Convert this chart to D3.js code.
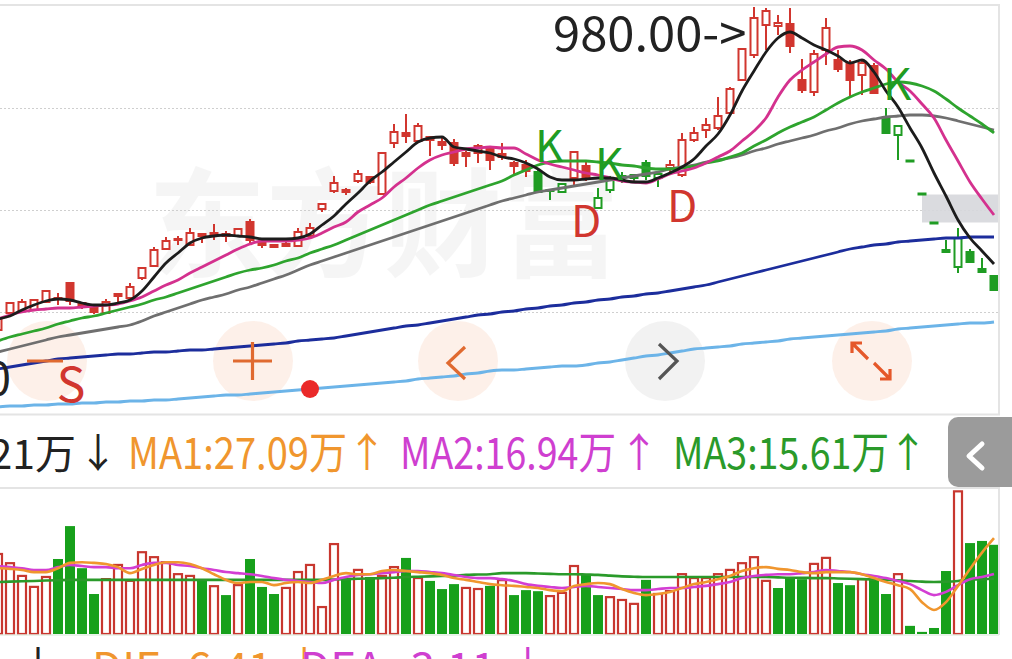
<!DOCTYPE html>
<html>
<head>
<meta charset="utf-8">
<script src="https://cdn.jsdelivr.net/npm/d3@7"></script>
<style>
html, body { margin: 0; padding: 0; background: #fff; overflow: hidden; }
svg { display: block; }
text { font-family: "Noto Sans CJK SC", "Noto Sans", sans-serif; }
</style>
</head>
<body>
<svg id="chart" width="1012" height="659"></svg>
<script>
// daily candles (price)
var open = [657,674,676,677,685,689,704,684,680,674,
  691,689,709,721,738,748,742,753,752,753,
  751,765,744,742,741,741,751,778,796,797,
  806,810,793,844,854,846,850,845,844,834,
  834,838,833,824,822,815,797,795,809,821,
  779,797,809,809,824,809,819,812,847,857,
  859,874,907,932,962,961,963,907,895,937,
  927,924,912,921,869,852,826.5,793.5,764.5,737,
  720,735,718,711];
var close = [669,684,685,687,696,688,686,680,675,685,
  693,700,719,737,746,747,754,751,754,751,
  758,747,742,740,743,755,759,783,804,795,
  813,805,834,855,851,861,847,842,824,831,
  841,827,830,821,816,795,796,803,835,810,
  789,807,811,812,811,813,822,847,854,862,
  871,898,938,969,976,964,941,897,933,959,
  918,907,924,894,854,861,825.5,792.5,763.5,735,
  749,725,715,697];
var high = [671,685,688,688,697,694,705,685,681,688,
  694,704,720,740,750,751,759,754,763,756,
  759,768,747,743,746,759,764,784,811,799,
  817,811,834,863,873,864,851,849,848,836,
  843,841,844,826,827,817,798,804,836,827,
  799,811,815,812,827,815,827,854,860,869,
  890,900,938,980,979,972,979,928,937,969,
  937,927,927,924,879,861,826.5,793.5,764.5,747,
  759,738,729,712];
var low = [654,673,675,676,684,682,682,678,673,673,
  684,688,707,720,737,742,741,744,747,745,
  750,742,739,739,740,740,749,775,794,792,
  804,803,792,839,844,845,831,837,821,820,
  824,817,827,812,810,794,787,794,800,806,
  778,794,804,806,807,800,815,810,845,849,
  857,873,907,929,937,952,934,894,891,922,
  915,891,892,893,853,827,825.5,792.5,763.5,735,
  714,724,714,696];

// moving averages
var ma5 = [668,671,677,682,686,688,687,684,682,682,
  684,687,696,710,724,734,744,749,751,752,
  751,750,748,748,748,749,753,762,771,783,
  794,806,815,825,835,845,849,850,840,838,
  836,834,830,828,824,818,810,807,807,808,
  809,809,807,805,805,809,814,820,828,841,
  853,872,896,916,935,949,955,949,942,937,
  931,924,927,915,896,880,859,839,814,791,
  767,749,736,723];
var ma10 = [668,672,675,677,678,679,679,680,681,682,
  683,686,690,696,702,707,714,720,726,732,
  738,743,746,746,746,747,749,754,760,765,
  775,782,789,800,809,819,827,832,835,838,
  839,840,839,839,833,827,823,820,817,814,
  812,809,806,805,804,808,813,816,819,824,
  830,836,846,856,869,890,907,917,925,933,
  940,941,937,927,918,905,896,883,869,847,
  826,805,788,772];
var ma20 = [646,650,653,656,659,663,666,669,671,674,
  677,680,683,687,690,694,698,702,706,710,
  714,717,719,722,726,729,734,738,742,747,
  752,757,762,767,772,777,782,786,790,794,
  798,802,806,812,817,822,825,826,826,826,
  825,824,822,821,819,818,818,819,821,824,
  826,830,834,841,847,854,860,865,870,877,
  884,890,895,899,903,905,904,901,896,888,
  879,871,863,854];
var ma30 = [635,638,641,644,647,650,652,654,656,658,
  660,662,666,671,675,679,683,687,690,693,
  697,700,704,708,712,717,722,726,730,734,
  738,742,746,750,754,758,762,766,770,774,
  778,782,786,789,792,795,797,799,801,803,
  805,807,809,811,813,815,818,820,822,825,
  827,829,832,836,839,843,846,849,852,856,
  859,863,866,868,870,871,872,872,871,869,
  866,863,860,857];
var ma60 = [618,620,622,624,626,628,629,630,631,632,
  633,633,634,635,635,636,637,637,638,639,
  640,641,642,643,644,646,647,648,649,651,
  653,655,657,659,661,662,664,666,668,670,
  672,673,675,676,678,679,681,682,684,685,
  687,688,690,691,693,694,696,698,700,702,
  705,708,711,714,717,720,723,726,729,732,
  735,738,740,742,743,745,746,747,748,749,
  749,750,750,750];
var ma120 = [580,581,581,582,582,583,583,584,584,585,
  585,586,586,587,587,588,589,590,591,592,
  592,593,594,595,596,597,598,599,600,601,
  602,603,604,605,606,608,609,610,611,613,
  614,616,617,617,618,619,620,621,621,622,
  624,625,627,629,631,632,634,636,638,639,
  640,641,643,644,645,646,648,649,650,651,
  652,653,654,655,656,658,659,660,661,662,
  663,664,664,665];

// 空/多 signals (K = 空, D = 多)
var signalIdx = [45, 48, 50, 56, 74];
var signalType = ["K", "D", "K", "D", "K"];
var gapIdx = 77;      // price gap after this day
var markIdx = 26;     // red dot on the long average

// volume, 万 shares
var vol = [22.9,20.3,16.7,13.6,16.4,21.2,30.5,18.6,11.3,15.8,
  19.8,15.3,23.4,22.0,20.6,17.2,16.7,15.5,13.8,11.0,
  14.1,21.2,13.3,11.3,13.3,17.8,19.8,7.9,25.7,15.5,
  18.4,16.1,16.7,19.2,21.5,16.1,15.0,12.7,14.1,13.3,
  13.0,13.6,15.5,11.0,12.4,12.1,11.0,11.9,19.5,16.7,
  11.0,10.7,9.9,8.8,15.3,11.6,12.4,17.2,16.1,16.1,
  17.2,18.4,20.3,22.0,15.3,13.0,16.1,15.5,20.1,21.8,
  14.4,13.8,15.8,15.5,11.3,17.2,2.3,0.6,1.7,17.8,
  40.6,25.7,26.3,25.21];
var volMa1 = [18.6,18.4,18.1,17.5,17.5,18.6,20.1,20.3,20.1,19.8,
  18.9,17.2,18.4,19.5,20.3,20.3,19.8,18.6,16.9,15.3,
  14.4,14.7,14.7,13.8,14.4,14.7,14.4,15.3,16.4,17.2,
  16.9,16.9,17.8,18.1,17.8,17.5,17.2,16.7,15.8,15.3,
  14.7,14.1,13.8,13.6,13.3,13.0,12.4,12.1,13.6,14.1,
  14.4,14.1,12.7,11.6,11.0,11.3,11.9,13.0,14.1,14.7,
  15.5,16.4,17.8,18.6,18.9,18.4,18.1,17.5,17.2,17.5,
  17.5,17.5,16.9,15.8,14.7,13.8,12.7,9.0,6.8,9.0,
  13.6,18.4,23.0,27.09];
var volMa2 = [19.2,18.9,18.6,18.1,18.1,18.9,19.5,19.2,18.9,18.9,
  18.6,18.6,19.5,20.1,20.1,19.5,19.2,18.6,18.1,17.5,
  17.2,16.9,16.4,15.8,15.3,15.0,14.7,14.4,15.3,16.1,
  16.7,16.9,17.2,17.5,17.8,17.8,17.5,17.2,16.7,16.1,
  15.8,15.8,15.5,15.0,14.1,13.6,13.3,13.0,13.3,13.6,
  13.3,13.0,12.7,12.4,12.4,12.7,13.0,13.0,13.3,13.6,
  14.1,14.7,15.8,16.4,16.7,16.9,16.9,17.2,17.5,18.1,
  17.8,17.5,16.9,16.4,15.8,15.0,14.1,12.4,11.0,11.9,
  13.8,15.5,16.1,16.94];
var volMa3 = [14.7,14.8,14.9,15.0,15.1,15.2,15.3,15.3,15.3,15.3,
  15.3,15.3,15.3,15.3,15.3,15.3,15.3,15.3,15.3,15.3,
  15.3,15.3,15.3,15.3,15.3,15.3,15.3,15.3,15.4,15.5,
  15.6,15.7,15.8,15.9,16.1,16.2,16.3,16.4,16.5,16.7,
  16.8,16.9,17.2,17.2,17.2,17.1,17.0,16.9,16.9,16.8,
  16.7,16.5,16.3,16.2,16.1,16.1,16.1,16.1,16.1,16.1,
  16.1,16.1,16.1,16.1,16.1,16.0,15.9,15.9,15.8,15.8,
  15.7,15.6,15.5,15.4,15.3,15.2,15.0,14.8,14.7,14.8,
  15.0,15.3,15.5,15.61];

var RED = "#d1362f", GREEN = "#1f9c23";
var N = open.length, idx = d3.range(N);

var svg = d3.select("#chart");
svg.append("rect").attr("width", 1012).attr("height", 659).attr("fill", "#fff");

// scales
var x = d3.scaleBand().domain(idx).range([-8, 1000]).paddingInner(0.25).paddingOuter(0.125);
var xc = function(i) { return x(i) + x.bandwidth() / 2; };
var y = d3.scaleLinear().domain([573, 981]).range([414, 6]);
var yv = d3.scaleLinear().domain([0, 40.7]).range([634, 490]);

var defs = svg.append("defs");
defs.append("clipPath").attr("id", "clipMain")
  .append("rect").attr("x", 0).attr("y", 6).attr("width", 998).attr("height", 408);
defs.append("clipPath").attr("id", "clipVol")
  .append("rect").attr("x", 0).attr("y", 488).attr("width", 998).attr("height", 147);

// watermark
svg.append("text").attr("x", 148).attr("y", 268)
  .attr("font-size", 118).attr("font-weight", "bold").attr("fill", "#000").attr("opacity", 0.035)
  .text("东方财富");

// grid and frame
var dom = y.domain();
svg.append("g").selectAll("line")
  .data(d3.range(1, 4).map(function(k) { return dom[0] + (dom[1] - dom[0]) * k / 4; }))
  .enter().append("line")
    .attr("x1", 0).attr("x2", 998)
    .attr("y1", function(d) { return Math.round(y(d)) + 0.5; })
    .attr("y2", function(d) { return Math.round(y(d)) + 0.5; })
    .attr("stroke", "#cfcfcf").attr("stroke-dasharray", "2,2");

var frame = svg.append("g").attr("stroke", "#e4e4e4").attr("stroke-width", 2);
frame.append("line").attr("x1", 0).attr("x2", 1000).attr("y1", 5).attr("y2", 5);
frame.append("line").attr("x1", 999).attr("x2", 999).attr("y1", 5).attr("y2", 415);
frame.append("line").attr("x1", 0).attr("x2", 1000).attr("y1", 414.5).attr("y2", 414.5);
frame.append("line").attr("x1", 0).attr("x2", 1000).attr("y1", 488).attr("y2", 488);
frame.append("line").attr("x1", 999).attr("x2", 999).attr("y1", 488).attr("y2", 635);

// toolbar buttons (under the lines)
var btnX = [47, 253, 458, 665, 872];
svg.append("g").selectAll("circle").data(btnX).enter().append("circle")
  .attr("cx", function(d) { return d; }).attr("cy", 361).attr("r", 40)
  .attr("fill", function(d, i) { return i === 3 ? "#efefef" : "#fdece4"; })
  .attr("opacity", 0.8);

var main = svg.append("g").attr("clip-path", "url(#clipMain)");

// gap box
main.append("rect")
  .attr("x", xc(gapIdx)).attr("width", 1000 - xc(gapIdx))
  .attr("y", y(low[gapIdx])).attr("height", y(high[gapIdx + 1]) - y(low[gapIdx]))
  .attr("fill", "#d6d7db").attr("opacity", 0.9);

function trend(i) {
  var t = "D";
  signalIdx.forEach(function(s, k) { if (s <= i) t = signalType[k]; });
  return t;
}
var cColor = function(i) { return trend(i) === "K" ? GREEN : RED; };

// candles
var candle = main.append("g").selectAll("g").data(idx).enter().append("g");
candle.append("line")
  .attr("x1", xc).attr("x2", xc)
  .attr("y1", function(i) { return y(high[i]); })
  .attr("y2", function(i) { return y(low[i]); })
  .attr("stroke", cColor).attr("stroke-width", 2);
candle.append("rect")
  .attr("x", function(i) { return x(i) + 1; })
  .attr("width", x.bandwidth() - 2)
  .attr("y", function(i) { return y(Math.max(open[i], close[i])); })
  .attr("height", function(i) { return Math.max(1, Math.abs(y(open[i]) - y(close[i]))); })
  .attr("fill", function(i) { return close[i] > open[i] ? "#fff" : cColor(i); })
  .attr("stroke", cColor).attr("stroke-width", 2);

// moving averages
var line = function(arr) {
  return d3.line().x(xc).y(function(i) { return y(arr[i]); }).curve(d3.curveMonotoneX)(idx);
};
[[ma120, "#6cb4e8"], [ma60, "#1c2d9c"], [ma30, "#6f6f6f"], [ma20, "#2ea42e"], [ma10, "#d4318e"], [ma5, "#1c1c1c"]]
  .forEach(function(s) {
    main.append("path").attr("d", line(s[0])).attr("fill", "none")
      .attr("stroke", s[1]).attr("stroke-width", 2.8).attr("stroke-linejoin", "round");
  });

// K / D marks
signalIdx.forEach(function(s, k) {
  var isK = signalType[k] === "K";
  svg.append("text")
    .attr("x", xc(s) - 3)
    .attr("y", isK ? y(high[s]) - 8 : y(low[s]) + 50)
    .attr("font-family", "Noto Sans").attr("font-size", 44)
    .attr("fill", isK ? GREEN : RED)
    .text(signalType[k]);
});

// highest price marker
var hi = d3.maxIndex(high);
svg.append("text").attr("x", 553).attr("y", y(high[hi]) + 44)
  .attr("textLength", x(hi) - 3 - 553).attr("lengthAdjust", "spacingAndGlyphs")
  .attr("font-family", "Noto Sans").attr("font-size", 48)
  .attr("fill", "#222").text(high[hi].toFixed(2) + "->");

// toolbar icons
var ic = svg.append("g").attr("fill", "none").attr("stroke-width", 3.2).attr("stroke-linecap", "butt");
ic.append("line").attr("x1", 27).attr("x2", 63).attr("y1", 361).attr("y2", 361).attr("stroke", "#e06a30");
ic.append("path").attr("d", "M233,361H272M252.5,342V380").attr("stroke", "#e06a30");
ic.append("path").attr("d", "M465,347L448,363L465,379").attr("stroke", "#e06a30");
ic.append("path").attr("d", "M659,344L677,361L659,379").attr("stroke", "#555");
ic.append("path").attr("d", "M852,353V343H862M852,343L868,359M890,369V379H880M890,379L874,363").attr("stroke", "#e5582a");

svg.append("text").attr("x", 71).attr("y", 402).attr("text-anchor", "middle")
  .attr("font-family", "Noto Sans").attr("font-size", 48).attr("fill", RED).text("S");
svg.append("text").attr("x", 11).attr("y", 395).attr("text-anchor", "end")
  .attr("font-family", "Noto Sans").attr("font-size", 46).attr("fill", "#222").text("600.00");
svg.append("circle").attr("cx", xc(markIdx)).attr("cy", y(ma120[markIdx])).attr("r", 9).attr("fill", "#ea2a2a");

// legend row
var last = N - 1;
var arrow = function(a) { return a[last] >= a[last - 1] ? "↑" : "↓"; };
var leg = [
  {t: "VOL:" + vol[last].toFixed(2) + "万", a: arrow(vol), c: "#222", x0: null, x1: 76, ax: 98},
  {t: "MA1:" + volMa1[last].toFixed(2) + "万", a: arrow(volMa1), c: "#f0962e", x0: 128, x1: 347, ax: 367},
  {t: "MA2:" + volMa2[last].toFixed(2) + "万", a: arrow(volMa2), c: "#cf3fd0", x0: 400, x1: 616, ax: 639},
  {t: "MA3:" + volMa3[last].toFixed(2) + "万", a: arrow(volMa3), c: "#2a9a2a", x0: 673, x1: 889, ax: 908}
];
leg.forEach(function(l) {
  var t = svg.append("text").attr("y", 469).attr("font-size", 44).attr("fill", l.c).text(l.t);
  if (l.x0 === null) t.attr("x", l.x1).attr("text-anchor", "end").attr("font-size", 41);
  else t.attr("x", l.x0).attr("textLength", l.x1 - l.x0).attr("lengthAdjust", "spacingAndGlyphs");
  svg.append("text").attr("x", l.ax).attr("y", 467).attr("text-anchor", "middle")
    .attr("font-size", 40).attr("fill", l.c).text(l.a);
});

// side tab
svg.append("path").attr("d", "M958,417H1012V487H958A10,10 0 0 1 948,477V427A10,10 0 0 1 958,417Z").attr("fill", "#9b9b9b");
svg.append("path").attr("d", "M982,444L969,456L982,468").attr("fill", "none")
  .attr("stroke", "#fff").attr("stroke-width", 5).attr("stroke-linecap", "round").attr("stroke-linejoin", "round");

// volume panel
var vg = svg.append("g").attr("clip-path", "url(#clipVol)");
var vUp = function(i) { return i === 0 || close[i] >= close[i - 1]; };
vg.selectAll("rect").data(idx).enter().append("rect")
  .attr("x", function(i) { return xc(i) - 5 + (vUp(i) ? 1 : 0); })
  .attr("width", function(i) { return vUp(i) ? 8 : 10; })
  .attr("y", function(i) { return yv(vol[i]) + (vUp(i) ? 1 : 0); })
  .attr("height", function(i) { return yv(0) - yv(vol[i]) - (vUp(i) ? 1 : 0); })
  .attr("fill", function(i) { return vUp(i) ? "#fff" : "#17a01b"; })
  .attr("stroke", function(i) { return vUp(i) ? "#c8372f" : "none"; })
  .attr("stroke-width", 2.2);
var vline = function(arr) {
  return d3.line().x(xc).y(function(i) { return yv(arr[i]); }).curve(d3.curveMonotoneX)(idx);
};
[[volMa3, "#2a9a2a"], [volMa2, "#d33ed3"], [volMa1, "#f0962e"]].forEach(function(s) {
  vg.append("path").attr("d", vline(s[0])).attr("fill", "none")
    .attr("stroke", s[1]).attr("stroke-width", 2.6).attr("stroke-linejoin", "round");
});
svg.append("line").attr("x1", 0).attr("x2", 999).attr("y1", 635).attr("y2", 635)
  .attr("stroke", "#e3efe3").attr("stroke-width", 1.5);

// next indicator row (cut off by the frame)
svg.append("text").attr("x", 60).attr("y", 684).attr("text-anchor", "end")
  .attr("font-size", 44).attr("fill", "#222").text("-4.61 ↓");
svg.append("text").attr("x", 92).attr("y", 684)
  .attr("font-size", 44).attr("fill", "#f0962e").text("DIF:-6.41 ↓");
svg.append("text").attr("x", 300).attr("y", 684)
  .attr("font-size", 44).attr("fill", "#cf3fd0").text("DEA:-3.11 ↓");
</script>
</body>
</html>
